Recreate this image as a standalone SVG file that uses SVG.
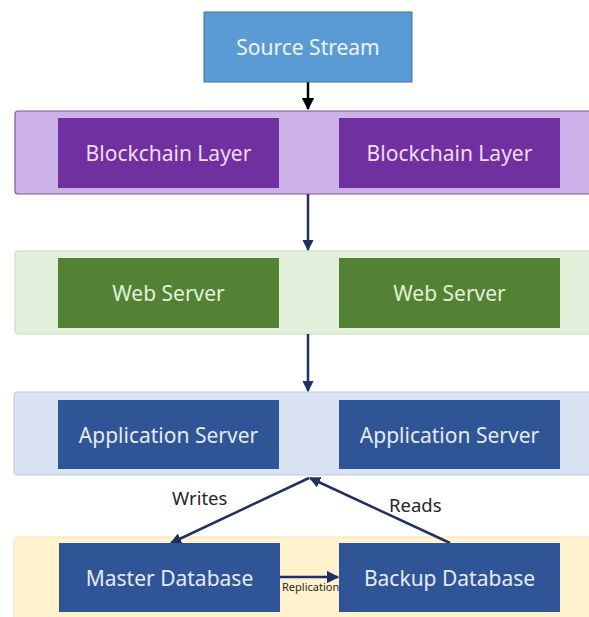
<svg xmlns="http://www.w3.org/2000/svg" width="589" height="617" viewBox="0 0 589 617">
  <defs>
    <marker id="arrowBlack" viewBox="0 0 10 10" refX="9" refY="5" markerWidth="5" markerHeight="5" orient="auto">
      <path d="M0,0 L10,5 L0,10 z" fill="#000000"/>
    </marker>
    <marker id="arrowNavy" viewBox="0 0 10 10" refX="9" refY="5" markerWidth="4.5" markerHeight="4.5" orient="auto">
      <path d="M0,0 L10,5 L0,10 z" fill="#1f3064"/>
    </marker>
    <marker id="arrowSmall" viewBox="0 0 10 10" refX="9" refY="5" markerWidth="5" markerHeight="5" orient="auto">
      <path d="M0,0 L10,5 L0,10 z" fill="#1f3064"/>
    </marker>
  </defs>
  <style>
    text { font-family: "Noto Sans", "Open Sans", "Liberation Sans", sans-serif; }
    .lbl { font-size: 21px; text-anchor: middle; dominant-baseline: central; }
    .band-purple { fill: #cdb1e9; stroke: #7b5a96; stroke-width: 1.2; }
    .band-green { fill: #e2efda; stroke: #c8dabb; stroke-width: 1; }
    .band-blue { fill: #dae3f3; stroke: #b9c8e2; stroke-width: 1; }
    .band-yellow { fill: #fff2cc; stroke: #f1e2b8; stroke-width: 1; }
    .src { fill: #5b9bd5; stroke: #41719c; stroke-width: 1; }
    .purple { fill: #7030a0; }
    .green { fill: #548235; }
    .navy { fill: #2f5597; }
    .t-src { fill: #eef4fb; }
    .t-purple { fill: #f1dcf5; }
    .t-green { fill: #e2f0d9; }
    .t-navy { fill: #e4ebf7; }
    .edge { stroke: #1f3064; stroke-width: 2.5; fill: none; }
    .note { font-size: 18.5px; fill: #262626; }
  </style>

  <rect width="589" height="617" fill="#ffffff"/>

  <!-- layer bands -->
  <g id="bands">
    <rect class="band-purple" x="15" y="111" width="580" height="83" rx="3"/>
    <rect class="band-green" x="15" y="251" width="580" height="83" rx="3"/>
    <rect class="band-blue" x="14" y="392" width="580" height="83" rx="3"/>
    <rect class="band-yellow" x="14" y="537" width="580" height="90" rx="3"/>
  </g>

  <!-- connectors -->
  <g id="connectors">
    <line x1="308" y1="82" x2="308" y2="109" stroke="#000000" stroke-width="2.5" marker-end="url(#arrowBlack)"/>
    <line class="edge" x1="308" y1="194" x2="308" y2="250" marker-end="url(#arrowNavy)"/>
    <line class="edge" x1="308" y1="334" x2="308" y2="391" marker-end="url(#arrowNavy)"/>
    <line class="edge" x1="309" y1="478" x2="171" y2="543" marker-end="url(#arrowNavy)"/>
    <line class="edge" x1="450" y1="543" x2="310" y2="478" marker-end="url(#arrowNavy)"/>
    <line class="edge" x1="280" y1="577" x2="338" y2="577" marker-end="url(#arrowSmall)"/>
    <text class="note" x="172" y="505">Writes</text>
    <text class="note" x="389" y="512">Reads</text>
    <text x="282" y="591" font-size="11" fill="#262626">Replication</text>
  </g>

  <g id="source-stream">
    <rect class="src" x="204" y="12" width="208" height="70"/>
    <text class="lbl t-src" x="308" y="47">Source Stream</text>
  </g>

  <g id="blockchain-1">
    <rect class="purple" x="58" y="118" width="221" height="70"/>
    <text class="lbl t-purple" x="168.5" y="153">Blockchain Layer</text>
  </g>
  <g id="blockchain-2">
    <rect class="purple" x="339" y="118" width="221" height="70"/>
    <text class="lbl t-purple" x="449.5" y="153">Blockchain Layer</text>
  </g>

  <g id="web-1">
    <rect class="green" x="58" y="258" width="221" height="70"/>
    <text class="lbl t-green" x="168.5" y="293">Web Server</text>
  </g>
  <g id="web-2">
    <rect class="green" x="339" y="258" width="221" height="70"/>
    <text class="lbl t-green" x="449.5" y="293">Web Server</text>
  </g>

  <g id="app-1">
    <rect class="navy" x="58" y="400" width="221" height="69"/>
    <text class="lbl t-navy" x="168.5" y="434.5">Application Server</text>
  </g>
  <g id="app-2">
    <rect class="navy" x="339" y="400" width="221" height="69"/>
    <text class="lbl t-navy" x="449.5" y="434.5">Application Server</text>
  </g>

  <g id="master-db">
    <rect class="navy" x="59" y="543" width="221" height="69"/>
    <text class="lbl t-navy" x="169.5" y="577.5">Master Database</text>
  </g>
  <g id="backup-db">
    <rect class="navy" x="339" y="543" width="221" height="69"/>
    <text class="lbl t-navy" x="449.5" y="577.5">Backup Database</text>
  </g>
</svg>
